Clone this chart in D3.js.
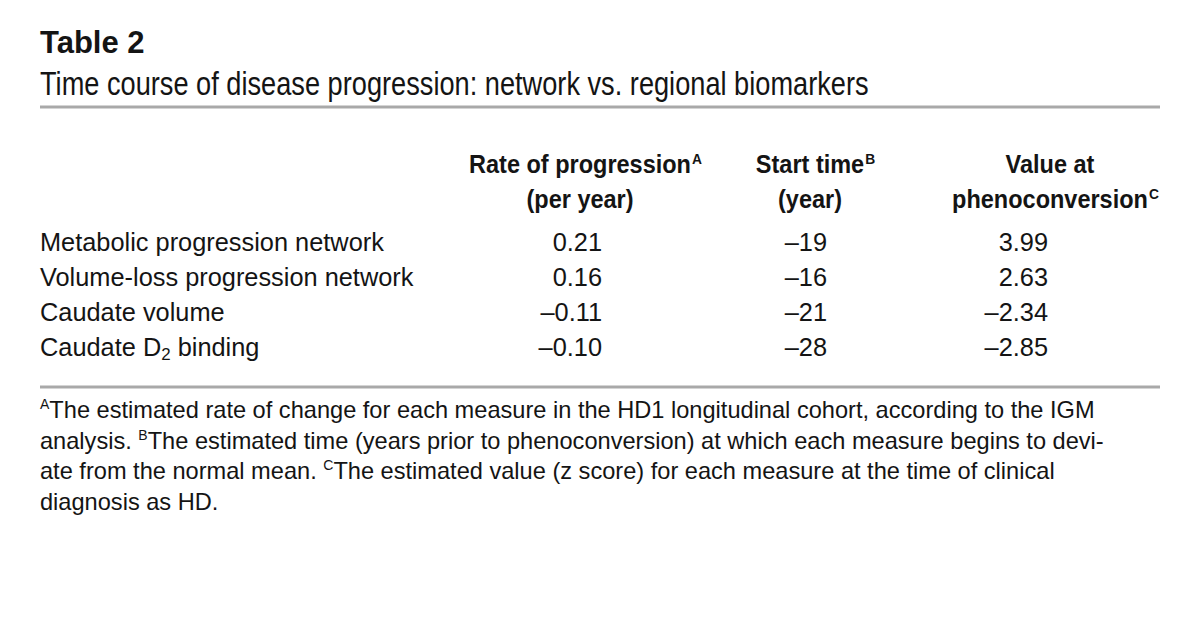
<!DOCTYPE html>
<html>
<head>
<meta charset="utf-8">
<script src="https://cdn.jsdelivr.net/npm/d3@7"></script>
<style>
  html, body { margin: 0; padding: 0; background: #fff; }
  svg { display: block; }
  text { font-family: "Liberation Sans", Arial, Helvetica, sans-serif; }
</style>
</head>
<body>
<div id="chart"></div>
<script>
// ---- data ----
const tableTitle = "Table 2";
const tableSubtitle = "Time course of disease progression: network vs. regional biomarkers";
const rowLabels = ["Metabolic progression network", "Volume-loss progression network", "Caudate volume", "Caudate D2 binding"];
const rateOfProgression = [0.21, 0.16, -0.11, -0.10];
const startTime = [-19, -16, -21, -28];
const valueAtPhenoconversion = [3.99, 2.63, -2.34, -2.85];
const headerLine1 = ["Rate of progression", "Start time", "Value at"];
const headerLine2 = ["(per year)", "(year)", "phenoconversion"];
const headerMarks = ["A", "B", "C"];
const footnoteLines = [
  [["A", true], ["The estimated rate of change for each measure in the HD1 longitudinal cohort, according to the IGM", false]],
  [["analysis. ", false], ["B", true], ["The estimated time (years prior to phenoconversion) at which each measure begins to devi-", false]],
  [["ate from the normal mean. ", false], ["C", true], ["The estimated value (z score) for each measure at the time of clinical", false]],
  [["diagnosis as HD.", false]]
];

// ---- layout ----
const W = 1200, H = 620;
const svg = d3.select("#chart").append("svg").attr("width", W).attr("height", H);
const left = 40, right = 1160;
const ink = "#141414";
const rule = "#a9a9a9";

// horizontal condensing factors (condensed typeface emulation)
function condense(str, size, weight, target) {
  const p = svg.append("text").attr("font-size", size).attr("font-weight", weight).text(str);
  const w = p.node().getComputedTextLength();
  p.remove();
  return target / w;
}
const sxSub = condense(tableSubtitle, 32.5, "normal", 829);
const sxBody = condense(rowLabels[0], 25.5, "normal", 344);
const sxHead = condense(headerLine1[0], 25.5, "bold", 222);

function narrow(parent, sx, x, yy, anchor, size, weight) {
  const g = parent.append("g").attr("transform", `translate(${x},${yy}) scale(${sx},1)`);
  return g.append("text").attr("x", 0).attr("y", 0)
    .attr("text-anchor", anchor || "start")
    .attr("font-size", size).attr("font-weight", weight || "normal").attr("fill", ink);
}

svg.append("text").attr("x", left).attr("y", 53)
  .attr("font-weight", "bold").attr("font-size", 31).attr("fill", ink)
  .text(tableTitle);

narrow(svg, sxSub, left, 95, "start", 32.5).text(tableSubtitle);

svg.append("rect").attr("x", left).attr("y", 105.5).attr("width", right - left).attr("height", 3).attr("fill", rule);

// column headers
const headCenters = [580, 810, 1050];
const colRight = [602, 827, 1048];
headerLine1.forEach((h, i) => {
  const t1 = narrow(svg, sxHead, headCenters[i], 173, "middle", 25.5, "bold").text(h);
  const t2 = narrow(svg, sxHead, headCenters[i], 208, "middle", 25.5, "bold").text(headerLine2[i]);
  const markLine = i === 2 ? t2 : t1;
  const w = markLine.node().getComputedTextLength() * sxHead;
  const yy = i === 2 ? 208 : 173;
  narrow(svg, sxHead, headCenters[i] + w / 2 + 1, yy - 9, "start", 15, "bold").text(headerMarks[i]);
});

// rows
const y = d3.scaleBand().domain(d3.range(rowLabels.length)).range([216, 356]);
const fmt2 = v => d3.format(".2f")(v).replace(/[−-]/g, "–");
const fmt0 = v => d3.format("d")(v).replace(/[−-]/g, "–");

rowLabels.forEach((lab, i) => {
  const base = y(i) + 35;
  const t = narrow(svg, sxBody, left, base, "start", 25.5);
  const m = lab.match(/^(.*D)2( .*)$/);
  if (m) {
    t.append("tspan").text(m[1]);
    t.append("tspan").attr("font-size", 17).attr("dy", 4).text("2");
    t.append("tspan").attr("dy", -4).text(m[2]);
  } else {
    t.text(lab);
  }
  narrow(svg, sxBody, colRight[0], base, "end", 25.5).text(fmt2(rateOfProgression[i]));
  narrow(svg, sxBody, colRight[1], base, "end", 25.5).text(fmt0(startTime[i]));
  narrow(svg, sxBody, colRight[2], base, "end", 25.5).text(fmt2(valueAtPhenoconversion[i]));
});

svg.append("rect").attr("x", left).attr("y", 385.5).attr("width", right - left).attr("height", 3).attr("fill", rule);

// footnotes
const fg = svg.append("g").attr("font-size", 23.6).attr("fill", ink);
footnoteLines.forEach((parts, i) => {
  const t = fg.append("text").attr("x", left).attr("y", 418 + i * 30.5);
  let raised = false;
  parts.forEach(([s, sup]) => {
    if (sup) {
      t.append("tspan").attr("font-size", 14).attr("dy", raised ? 0 : -9).text(s);
      raised = true;
    } else {
      t.append("tspan").attr("dy", raised ? 9 : 0).text(s);
      raised = false;
    }
  });
});
</script>
</body>
</html>
